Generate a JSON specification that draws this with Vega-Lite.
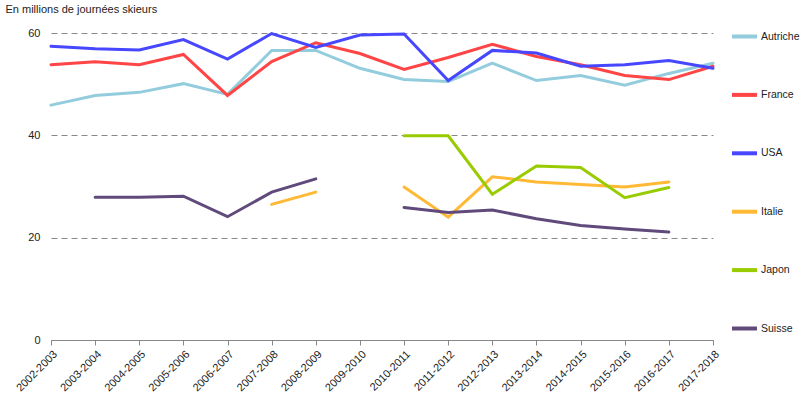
{
  "$schema": "https://vega.github.io/schema/vega-lite/v6.json",
  "autosize": {"type": "none"},
  "width": 662,
  "height": 307,
  "padding": {"left": 51, "top": 33, "right": 87, "bottom": 57},
  "background": "white",
  "config": {
    "view": {"stroke": null},
    "font": "Liberation Sans"
  },
  "data": {
    "values": [
      {"saison": "2002-2003", "pays": "Autriche", "v": 45.9},
      {"saison": "2003-2004", "pays": "Autriche", "v": 47.8},
      {"saison": "2004-2005", "pays": "Autriche", "v": 48.4},
      {"saison": "2005-2006", "pays": "Autriche", "v": 50.1},
      {"saison": "2006-2007", "pays": "Autriche", "v": 48.0},
      {"saison": "2007-2008", "pays": "Autriche", "v": 56.6},
      {"saison": "2008-2009", "pays": "Autriche", "v": 56.6},
      {"saison": "2009-2010", "pays": "Autriche", "v": 53.1},
      {"saison": "2010-2011", "pays": "Autriche", "v": 50.9},
      {"saison": "2011-2012", "pays": "Autriche", "v": 50.5},
      {"saison": "2012-2013", "pays": "Autriche", "v": 54.1},
      {"saison": "2013-2014", "pays": "Autriche", "v": 50.7},
      {"saison": "2014-2015", "pays": "Autriche", "v": 51.7},
      {"saison": "2015-2016", "pays": "Autriche", "v": 49.8},
      {"saison": "2016-2017", "pays": "Autriche", "v": 52.1},
      {"saison": "2017-2018", "pays": "Autriche", "v": 54.1},
      {"saison": "2002-2003", "pays": "France", "v": 53.8},
      {"saison": "2003-2004", "pays": "France", "v": 54.4},
      {"saison": "2004-2005", "pays": "France", "v": 53.8},
      {"saison": "2005-2006", "pays": "France", "v": 55.8},
      {"saison": "2006-2007", "pays": "France", "v": 47.8},
      {"saison": "2007-2008", "pays": "France", "v": 54.4},
      {"saison": "2008-2009", "pays": "France", "v": 58.1},
      {"saison": "2009-2010", "pays": "France", "v": 56.0},
      {"saison": "2010-2011", "pays": "France", "v": 52.9},
      {"saison": "2011-2012", "pays": "France", "v": 55.2},
      {"saison": "2012-2013", "pays": "France", "v": 57.8},
      {"saison": "2013-2014", "pays": "France", "v": 55.4},
      {"saison": "2014-2015", "pays": "France", "v": 53.8},
      {"saison": "2015-2016", "pays": "France", "v": 51.7},
      {"saison": "2016-2017", "pays": "France", "v": 50.9},
      {"saison": "2017-2018", "pays": "France", "v": 53.5},
      {"saison": "2002-2003", "pays": "USA", "v": 57.4},
      {"saison": "2003-2004", "pays": "USA", "v": 56.9},
      {"saison": "2004-2005", "pays": "USA", "v": 56.7},
      {"saison": "2005-2006", "pays": "USA", "v": 58.7},
      {"saison": "2006-2007", "pays": "USA", "v": 54.9},
      {"saison": "2007-2008", "pays": "USA", "v": 59.9},
      {"saison": "2008-2009", "pays": "USA", "v": 57.2},
      {"saison": "2009-2010", "pays": "USA", "v": 59.6},
      {"saison": "2010-2011", "pays": "USA", "v": 59.8},
      {"saison": "2011-2012", "pays": "USA", "v": 50.7},
      {"saison": "2012-2013", "pays": "USA", "v": 56.6},
      {"saison": "2013-2014", "pays": "USA", "v": 56.1},
      {"saison": "2014-2015", "pays": "USA", "v": 53.5},
      {"saison": "2015-2016", "pays": "USA", "v": 53.8},
      {"saison": "2016-2017", "pays": "USA", "v": 54.6},
      {"saison": "2017-2018", "pays": "USA", "v": 53.1},
      {"saison": "2007-2008", "pays": "Italie", "v": 26.5},
      {"saison": "2008-2009", "pays": "Italie", "v": 28.9},
      {"saison": "2009-2010", "pays": "Italie", "v": null},
      {"saison": "2010-2011", "pays": "Italie", "v": 29.9},
      {"saison": "2011-2012", "pays": "Italie", "v": 24.0},
      {"saison": "2012-2013", "pays": "Italie", "v": 31.9},
      {"saison": "2013-2014", "pays": "Italie", "v": 30.9},
      {"saison": "2014-2015", "pays": "Italie", "v": 30.4},
      {"saison": "2015-2016", "pays": "Italie", "v": 29.9},
      {"saison": "2016-2017", "pays": "Italie", "v": 30.9},
      {"saison": "2010-2011", "pays": "Japon", "v": 39.9},
      {"saison": "2011-2012", "pays": "Japon", "v": 39.9},
      {"saison": "2012-2013", "pays": "Japon", "v": 28.5},
      {"saison": "2013-2014", "pays": "Japon", "v": 34.0},
      {"saison": "2014-2015", "pays": "Japon", "v": 33.7},
      {"saison": "2015-2016", "pays": "Japon", "v": 27.8},
      {"saison": "2016-2017", "pays": "Japon", "v": 29.8},
      {"saison": "2003-2004", "pays": "Suisse", "v": 27.9},
      {"saison": "2004-2005", "pays": "Suisse", "v": 27.9},
      {"saison": "2005-2006", "pays": "Suisse", "v": 28.1},
      {"saison": "2006-2007", "pays": "Suisse", "v": 24.1},
      {"saison": "2007-2008", "pays": "Suisse", "v": 28.9},
      {"saison": "2008-2009", "pays": "Suisse", "v": 31.5},
      {"saison": "2009-2010", "pays": "Suisse", "v": null},
      {"saison": "2010-2011", "pays": "Suisse", "v": 25.9},
      {"saison": "2011-2012", "pays": "Suisse", "v": 24.9},
      {"saison": "2012-2013", "pays": "Suisse", "v": 25.4},
      {"saison": "2013-2014", "pays": "Suisse", "v": 23.7},
      {"saison": "2014-2015", "pays": "Suisse", "v": 22.4},
      {"saison": "2015-2016", "pays": "Suisse", "v": 21.7},
      {"saison": "2016-2017", "pays": "Suisse", "v": 21.1}
    ]
  },
  "mark": {"type": "line", "strokeWidth": 3, "invalid": "break-paths-show-domains", "strokeCap": "round", "strokeJoin": "miter"},
  "encoding": {
    "x": {
      "field": "saison",
      "type": "ordinal",
      "scale": {"type": "point", "padding": 0},
      "axis": {
        "title": null,
        "labelAngle": -45,
        "labelFontSize": 11,
        "labelColor": "#222222",
        "labelPadding": 3,
        "tickSize": 5,
        "tickColor": "#888888",
        "domainColor": "#888888",
        "grid": false
      }
    },
    "y": {
      "field": "v",
      "type": "quantitative",
      "scale": {"domain": [0, 60], "nice": false},
      "axis": {
        "values": [0, 20, 40, 60],
        "title": "En millions de journées skieurs",
        "titleAngle": 0,
        "titleAlign": "left",
        "titleBaseline": "alphabetic",
        "titleX": -46,
        "titleY": -21,
        "titleFontSize": 11,
        "titleFontWeight": "normal",
        "titleColor": "#222222",
        "labelFontSize": 11,
        "labelColor": "#222222",
        "labelPadding": 11,
        "ticks": false,
        "domain": false,
        "grid": true,
        "gridColor": "#888888",
        "gridDash": [6, 4],
        "gridWidth": 1
      }
    },
    "color": {
      "field": "pays",
      "type": "nominal",
      "scale": {
        "domain": ["Autriche", "France", "USA", "Italie", "Japon", "Suisse"],
        "range": ["#93CDDD", "#FF4545", "#4747FF", "#FFB935", "#99CC00", "#604A7B"]
      },
      "legend": {
        "title": null,
        "orient": "none",
        "legendX": 679,
        "legendY": -11,
        "symbolType": "stroke",
        "symbolSize": 625,
        "symbolStrokeWidth": 4,
        "labelFontSize": 10.5,
        "labelColor": "#222222",
        "labelOffset": 2,
        "rowPadding": 35.4,
        "labelLimit": 200
      }
    }
  }
}
